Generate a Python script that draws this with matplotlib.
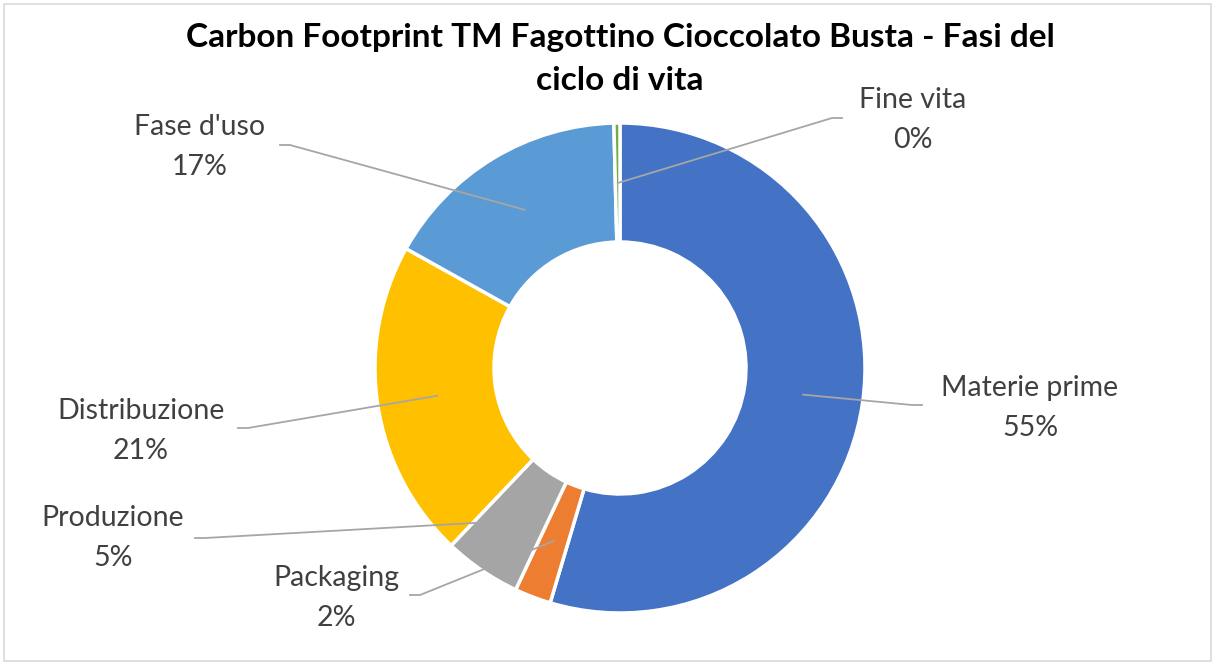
import matplotlib.pyplot as plt
import numpy as np
from matplotlib.patches import Rectangle

plt.rcParams['font.family'] = ['Lato', 'DejaVu Sans']

# Dati del grafico
fasi = ['Materie prime', 'Packaging', 'Produzione', 'Distribuzione', "Fase d'uso", 'Fine vita']
valori = [54.6, 2.4, 5.1, 21.0, 16.5, 0.4]
etichette_pct = ['55%', '2%', '5%', '21%', '17%', '0%']
colori = ['#4472C4', '#ED7D31', '#A5A5A5', '#FFC000', '#5B9BD5', '#70AD47']

# posizioni delle etichette (pixel, y dal basso) e gomito della linea guida
pos_etichette = [(1030, 256), (336, 66), (113, 126), (141, 233), (200, 517), (913, 544)]
gomiti = [(912, 259), (420, 69), (205, 126), (248, 236), (290, 519), (832, 546)]

fig = plt.figure(figsize=(12.15, 6.64), dpi=100)
ax = fig.add_axes([0, 0, 1, 1])

cx, cy, r = 620, 296, 245
wedges, _ = ax.pie(valori, colors=colori, startangle=90, counterclock=False,
                   center=(cx, cy), radius=r, frame=True,
                   wedgeprops=dict(width=119, edgecolor='white', linewidth=2.5))
ax.set_xlim(0, 1215)
ax.set_ylim(0, 664)
ax.set_aspect('equal')
ax.axis('off')

for w, (lx, ly), (gx, gy), nome, pct in zip(wedges, pos_etichette, gomiti, fasi, etichette_pct):
    ang = np.deg2rad((w.theta1 + w.theta2) / 2)
    sx = cx + 185 * np.cos(ang)
    sy = cy + 185 * np.sin(ang)
    ex = gx - 10 if gx < sx else gx + 10
    ax.plot([sx, gx, ex], [sy, gy, gy], color='#A6A6A6', lw=1.3, zorder=3)
    ax.text(lx, ly + 20, nome, ha='center', va='center', fontsize=20.5, color='#404040')
    ax.text(lx, ly - 20, pct, ha='center', va='center', fontsize=20.5, color='#404040')

# titolo su due righe
ax.text(620, 627, 'Carbon Footprint TM Fagottino Cioccolato Busta - Fasi del',
        ha='center', va='center', fontsize=24, fontweight='bold', color='black')
ax.text(620, 584, 'ciclo di vita',
        ha='center', va='center', fontsize=24, fontweight='bold', color='black')

fig.add_artist(Rectangle((0.003, 0.004), 0.994, 0.99, transform=fig.transFigure,
                         fill=False, edgecolor='#D9D9D9', lw=1.2))

plt.savefig('out.png', dpi=100)
